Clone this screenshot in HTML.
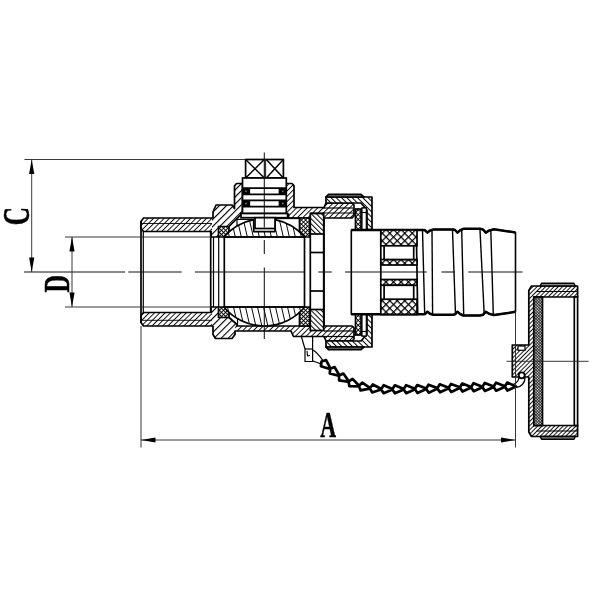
<!DOCTYPE html>
<html lang="en"><head><meta charset="utf-8"><title>Ball valve drawing</title>
<style>html,body{margin:0;padding:0;background:#fff}svg{display:block;will-change:transform;opacity:0.9999}</style></head>
<body>
<svg width="600" height="600" viewBox="0 0 600 600">
<rect width="600" height="600" fill="#fff"/>
<defs><pattern id="hp" patternUnits="userSpaceOnUse" width="3.75" height="3.75" patternTransform="rotate(45)"><rect width="3.75" height="3.75" fill="#fff"/><line x1="0" y1="0" x2="0" y2="3.75" stroke="#000" stroke-width="1.8"/></pattern><pattern id="hb" patternUnits="userSpaceOnUse" width="5.0" height="5.0" patternTransform="rotate(45)"><rect width="5.0" height="5.0" fill="#fff"/><line x1="0" y1="0" x2="0" y2="5.0" stroke="#000" stroke-width="2.2"/></pattern><pattern id="hn" patternUnits="userSpaceOnUse" width="3.75" height="3.75" patternTransform="rotate(-45)"><rect width="3.75" height="3.75" fill="#fff"/><line x1="0" y1="0" x2="0" y2="3.75" stroke="#000" stroke-width="2.0"/></pattern><pattern id="hi" patternUnits="userSpaceOnUse" width="3.6" height="3.6" patternTransform="rotate(-45)"><rect width="3.6" height="3.6" fill="#fff"/><line x1="0" y1="0" x2="0" y2="3.6" stroke="#000" stroke-width="2.0"/></pattern><pattern id="hball" patternUnits="userSpaceOnUse" width="5.85" height="5.85" patternTransform="rotate(-13)"><rect width="5.85" height="5.85" fill="#fff"/><line x1="0" y1="0" x2="0" y2="5.85" stroke="#000" stroke-width="1.9"/></pattern><pattern id="hc" patternUnits="userSpaceOnUse" width="3.0" height="3.0" patternTransform="rotate(45)"><rect width="3.0" height="3.0" fill="#fff"/><line x1="0" y1="0" x2="0" y2="3.0" stroke="#000" stroke-width="1.8"/></pattern><pattern id="xs" patternUnits="userSpaceOnUse" width="2.9" height="2.9" patternTransform="rotate(45)"><rect width="2.9" height="2.9" fill="#fff"/><line x1="0" y1="0" x2="0" y2="2.9" stroke="#000" stroke-width="1.8"/><line x1="0" y1="0" x2="2.9" y2="0" stroke="#000" stroke-width="1.8"/></pattern><pattern id="xk" patternUnits="userSpaceOnUse" width="5.3" height="5.3" patternTransform="rotate(45)"><rect width="5.3" height="5.3" fill="#fff"/><line x1="0" y1="0" x2="0" y2="5.3" stroke="#000" stroke-width="2.5"/><line x1="0" y1="0" x2="5.3" y2="0" stroke="#000" stroke-width="2.5"/></pattern><pattern id="xg" patternUnits="userSpaceOnUse" width="2.0" height="2.0" patternTransform="rotate(45)"><rect width="2.0" height="2.0" fill="#fff"/><line x1="0" y1="0" x2="0" y2="2.0" stroke="#000" stroke-width="1.3"/><line x1="0" y1="0" x2="2.0" y2="0" stroke="#000" stroke-width="1.3"/></pattern><pattern id="xw" patternUnits="userSpaceOnUse" width="3.4" height="3.4" patternTransform="rotate(45)"><rect width="3.4" height="3.4" fill="#fff"/><line x1="0" y1="0" x2="0" y2="3.4" stroke="#000" stroke-width="1.8"/><line x1="0" y1="0" x2="3.4" y2="0" stroke="#000" stroke-width="1.8"/></pattern></defs>
<polygon points="141,224 143.5,218 212,218 212,231.5 143.5,231.5 141,229" fill="url(#hp)" stroke="#000" stroke-width="0" stroke-linejoin="round" />
<polygon points="141,320 143.5,326 212,326 212,312.5 143.5,312.5 141,315" fill="url(#hp)" stroke="#000" stroke-width="0" stroke-linejoin="round" />
<polygon points="212,218 213,218 213,212 216,205 232,205 234.5,208.5 234.5,186 236.5,183.5 242.5,183.5 242.5,213.5 241,213.5 241,214.5 229,226.5 218.5,226.5 218.5,237 211,237 211,231.5 212,231.5" fill="url(#hb)" stroke="#000" stroke-width="0" stroke-linejoin="round" />
<polygon points="212,326 213,326 213,334.5 215.5,338.5 232,338.5 235,334.5 235,331 291,331 293.5,336.5 324,336.5 326,341 352,341 354,339 354,326 237,326 237,324.5 229,317.5 218.5,317.5 218.5,307 211,307 211,312.5 212,312.5" fill="url(#hp)" stroke="#000" stroke-width="0" stroke-linejoin="round" />
<polygon points="212,326 213,326 213,334.5 215.5,338.5 232,338.5 235,334.5 235,326 237,326 237,324.5 229,317.5 218.5,317.5 218.5,307 211,307 211,312.5 212,312.5" fill="url(#hb)" stroke="#000" stroke-width="0" stroke-linejoin="round" />
<polygon points="286.3,183.5 292,183.5 294,185.5 294,207.5 324,207.5 326,203 352,203 354,205 354,218 288.5,218 288.5,213.5 286.3,213.5" fill="url(#hp)" stroke="#000" stroke-width="0" stroke-linejoin="round" />
<polyline points="212,231.5 143.5,231.5 141,228.5 141,221.5 143.5,218 213,218 213,212 216,205 232,205 234.5,208.5 234.5,186 236.5,183.5 242.5,183.5 242.5,213.5 241,213.5 241,214.5 229,226.5" fill="none" stroke="#000" stroke-width="1.7" stroke-linejoin="round" />
<polyline points="211,231.5 211,237 218.5,237" fill="none" stroke="#000" stroke-width="1.7" stroke-linejoin="round" />
<polyline points="212,312.5 143.5,312.5 141,315.5 141,322.5 143.5,326 213,326" fill="none" stroke="#000" stroke-width="1.7" stroke-linejoin="round" />
<polyline points="213,326 213,334.5 215.5,338.5 232,338.5 235,334.5 235,331 291,331 293.5,336.5 324,336.5 326,341 352,341 354,339 354,328 352,326 237,326 237,324.5 229,317.5" fill="none" stroke="#000" stroke-width="1.7" stroke-linejoin="round" />
<polyline points="211,312.5 211,307 218.5,307" fill="none" stroke="#000" stroke-width="1.7" stroke-linejoin="round" />
<polyline points="286.3,183.5 292,183.5 294,185.5 294,207.5 324,207.5 326,203 352,203 354,205 354,216 352,218 288.5,218 288.5,213.5" fill="none" stroke="#000" stroke-width="1.7" stroke-linejoin="round" />
<line x1="141" y1="221" x2="141" y2="323" stroke="#000" stroke-width="1.7" />
<line x1="143.3" y1="231.5" x2="143.3" y2="312.5" stroke="#000" stroke-width="1.2" />
<line x1="142" y1="223.5" x2="212" y2="223.5" stroke="#000" stroke-width="0.9" />
<line x1="142" y1="320.3" x2="212" y2="320.3" stroke="#000" stroke-width="0.9" />
<line x1="322" y1="208" x2="353" y2="208" stroke="#000" stroke-width="1.2" />
<line x1="310" y1="213" x2="354" y2="213" stroke="#000" stroke-width="1.2" />
<line x1="324" y1="331" x2="354" y2="331" stroke="#000" stroke-width="1.2" />
<line x1="324" y1="336.5" x2="354" y2="336.5" stroke="#000" stroke-width="1.2" />
<line x1="210.7" y1="231.5" x2="210.7" y2="312.5" stroke="#000" stroke-width="1.7" />
<line x1="213.5" y1="237" x2="213.5" y2="307" stroke="#000" stroke-width="1.2" />
<line x1="218.7" y1="237" x2="218.7" y2="307" stroke="#000" stroke-width="1.2" />
<line x1="224.3" y1="237" x2="224.3" y2="307" stroke="#000" stroke-width="1.7" />
<line x1="304.5" y1="237" x2="304.5" y2="307" stroke="#000" stroke-width="1.7" />
<line x1="324" y1="218" x2="324" y2="326" stroke="#000" stroke-width="1.7" />
<polygon points="218.5,226.5 229,226.5 229,237 218.5,237" fill="url(#xs)" stroke="#000" stroke-width="1.7" stroke-linejoin="round" />
<polygon points="218.5,317.5 229,317.5 229,307 218.5,307" fill="url(#xs)" stroke="#000" stroke-width="1.7" stroke-linejoin="round" />
<polygon points="299.5,218 310,218 310,237 299.5,237" fill="url(#xs)" stroke="#000" stroke-width="1.7" stroke-linejoin="round" />
<polygon points="299.5,326 310,326 310,307 299.5,307" fill="url(#xs)" stroke="#000" stroke-width="1.7" stroke-linejoin="round" />
<rect x="310.3" y="213.5" width="13.4" height="20.5" fill="url(#hi)" stroke="#000" stroke-width="1.7"/>
<rect x="310.3" y="309.5" width="13.4" height="21" fill="url(#hi)" stroke="#000" stroke-width="1.7"/>
<line x1="310.3" y1="234" x2="310.3" y2="309.5" stroke="#000" stroke-width="1.7" />
<line x1="323.7" y1="234" x2="323.7" y2="309.5" stroke="#000" stroke-width="1.7" />
<line x1="310.3" y1="252.5" x2="323.7" y2="252.5" stroke="#000" stroke-width="1.7" />
<line x1="310.3" y1="291" x2="323.7" y2="291" stroke="#000" stroke-width="1.7" />
<path d="M223.84,237 A53.5 53.5 0 0 1 253.7,219.56 L253.7,231.6 L275,231.6 L275,219.58 A53.5 53.5 0 0 1 304.76,237 Z" fill="url(#hball)" stroke="#000" stroke-width="1.7" stroke-linejoin="round" />
<path d="M223.84,307 A52.6 52.6 0 0 0 304.76,307 Z" fill="url(#hball)" stroke="#000" stroke-width="1.7" stroke-linejoin="round" />
<line x1="224.3" y1="237" x2="304.5" y2="237" stroke="#000" stroke-width="1.7" />
<line x1="224.3" y1="307" x2="304.5" y2="307" stroke="#000" stroke-width="1.7" />
<polyline points="237,225.8 237,219.3 253.7,219.3" fill="none" stroke="#000" stroke-width="1.2" stroke-linejoin="round" />
<line x1="237.5" y1="319" x2="237.5" y2="325.7" stroke="#000" stroke-width="1.2" />
<line x1="275" y1="218.3" x2="300" y2="218.3" stroke="#000" stroke-width="1.7" />
<rect x="245.6" y="159.5" width="37.8" height="18.5" fill="#fff" stroke="#000" stroke-width="1.7"/>
<line x1="265.3" y1="159.5" x2="265.3" y2="178" stroke="#333" stroke-width="1.7" />
<line x1="245.6" y1="159.5" x2="264.3" y2="178" stroke="#000" stroke-width="1.5" />
<line x1="245.6" y1="178" x2="264.3" y2="159.5" stroke="#000" stroke-width="1.5" />
<line x1="266.3" y1="159.5" x2="283.4" y2="178" stroke="#000" stroke-width="1.5" />
<line x1="266.3" y1="178" x2="283.4" y2="159.5" stroke="#000" stroke-width="1.5" />
<rect x="242.5" y="178" width="43.8" height="35.5" fill="#fff" stroke="#000" stroke-width="1.7"/>
<line x1="242.5" y1="188.2" x2="286.3" y2="188.2" stroke="#000" stroke-width="1.7" />
<line x1="242.5" y1="194.4" x2="286.3" y2="194.4" stroke="#000" stroke-width="1.7" />
<line x1="242.5" y1="200.4" x2="286.3" y2="200.4" stroke="#000" stroke-width="1.7" />
<line x1="242.5" y1="206.6" x2="286.3" y2="206.6" stroke="#000" stroke-width="1.7" />
<rect x="242.7" y="188.20000000000002" width="6.6" height="6.2" rx="2" fill="#000"/>
<circle cx="246" cy="191.3" r="0.9" fill="#777"/>
<rect x="242.7" y="200.4" width="6.6" height="6.2" rx="2" fill="#000"/>
<circle cx="246" cy="203.5" r="0.9" fill="#777"/>
<rect x="279.5" y="188.20000000000002" width="6.6" height="6.2" rx="2" fill="#000"/>
<circle cx="282.8" cy="191.3" r="0.9" fill="#777"/>
<rect x="279.5" y="200.4" width="6.6" height="6.2" rx="2" fill="#000"/>
<circle cx="282.8" cy="203.5" r="0.9" fill="#777"/>
<line x1="249.3" y1="188.3" x2="249.3" y2="194.3" stroke="#000" stroke-width="1.7" />
<line x1="279.5" y1="188.3" x2="279.5" y2="194.3" stroke="#000" stroke-width="1.7" />
<line x1="249.3" y1="200.2" x2="249.3" y2="206.7" stroke="#000" stroke-width="1.7" />
<line x1="279.5" y1="200.2" x2="279.5" y2="206.7" stroke="#000" stroke-width="1.7" />
<rect x="241" y="213.5" width="46.6" height="4.2" fill="#fff" stroke="#000" stroke-width="1.7"/>
<rect x="255" y="217.7" width="20" height="10.8" fill="#fff" stroke="#000" stroke-width="1.7"/>
<polygon points="326,197 372,197 372,229.5 367,229.5 367,210 361,203 326,203" fill="url(#hn)" stroke="#000" stroke-width="1.7" stroke-linejoin="round" />
<polygon points="326,347 372,347 372,314.5 367,314.5 367,334 361,341 326,341" fill="url(#hn)" stroke="#000" stroke-width="1.7" stroke-linejoin="round" />
<polygon points="326,197 328.5,194.3 361,194.3 364,197" fill="#777" stroke="#000" stroke-width="1.7" stroke-linejoin="round" />
<polygon points="326,347 328.5,349.7 361,349.7 364,347" fill="#777" stroke="#000" stroke-width="1.7" stroke-linejoin="round" />
<rect x="355.5" y="209" width="5.5" height="21" fill="url(#xw)" stroke="#000" stroke-width="1.7"/>
<rect x="362" y="208" width="4.3" height="22" fill="#fff" stroke="#000" stroke-width="1.2"/>
<rect x="362" y="208" width="4.3" height="4.5" fill="#fff" stroke="#000" stroke-width="1.2"/>
<rect x="355.5" y="314" width="5.5" height="21" fill="url(#xw)" stroke="#000" stroke-width="1.7"/>
<rect x="362" y="314" width="4.3" height="22" fill="#fff" stroke="#000" stroke-width="1.2"/>
<rect x="362" y="331.5" width="4.3" height="4.5" fill="#fff" stroke="#000" stroke-width="1.2"/>
<polygon points="351.3,230 423.5,230 425,230.3 427.5,232.6 430,230.6 433.3,229.5 453.3,229.5 455,230 457.5,232.6 460,230.3 463.3,228.8 480,228.8 483,229.5 485.8,232.6 489,230.6 494,229.2 515.5,232.5 515.5,311.8 494,315.1 489,313.7 485.8,311.7 483,314.8 480,315.5 463.3,315.5 460,314 457.5,311.7 455,314.3 453.3,314.8 433.3,314.8 430,313.7 427.5,311.7 425,314 423.5,314.3 351.3,314.3" fill="#fff" stroke="#000" stroke-width="1.6" stroke-linejoin="round" />
<polyline points="351.3,230 423.5,230 425,230.3 427.5,232.6 430,230.6 433.3,229.5 453.3,229.5 455,230 457.5,232.6 460,230.3 463.3,228.8 480,228.8 483,229.5 485.8,232.6 489,230.6 494,229.2 515.5,232.5" fill="none" stroke="#000" stroke-width="2.5" stroke-linejoin="round" />
<polyline points="515.5,311.8 494,315.1 489,313.7 485.8,311.7 483,314.8 480,315.5 463.3,315.5 460,314 457.5,311.7 455,314.3 453.3,314.8 433.3,314.8 430,313.7 427.5,311.7 425,314 423.5,314.3 351.3,314.3" fill="none" stroke="#000" stroke-width="2.5" stroke-linejoin="round" />
<line x1="422.5" y1="230" x2="424.7" y2="314.3" stroke="#000" stroke-width="1.4" />
<line x1="432" y1="230" x2="432.6" y2="314.3" stroke="#000" stroke-width="1.4" />
<line x1="452.5" y1="230" x2="455.5" y2="314.3" stroke="#000" stroke-width="1.4" />
<line x1="461.7" y1="230" x2="463.7" y2="314.3" stroke="#000" stroke-width="1.4" />
<line x1="480" y1="230" x2="484.2" y2="314.3" stroke="#000" stroke-width="1.4" />
<line x1="490.8" y1="230" x2="493.3" y2="314.3" stroke="#000" stroke-width="1.4" />
<polygon points="380.8,230 416.3,230 417.7,314.3 380.8,314.3" fill="#fff" stroke="#000" stroke-width="1.7" stroke-linejoin="round" />
<rect x="380.8" y="230" width="36.2" height="15.8" fill="url(#xk)" stroke="#000" stroke-width="1.7"/>
<rect x="380.8" y="259.5" width="36.2" height="5.5" fill="url(#xk)" stroke="#000" stroke-width="1.7"/>
<rect x="380.8" y="279.5" width="36.2" height="5.8" fill="url(#xk)" stroke="#000" stroke-width="1.7"/>
<rect x="380.8" y="299.2" width="36.2" height="15.1" fill="url(#xk)" stroke="#000" stroke-width="1.7"/>
<rect x="384.1" y="245.8" width="29.6" height="13.7" fill="#fff" stroke="#000" stroke-width="1.7"/>
<rect x="384.1" y="285.3" width="29.6" height="13.9" fill="#fff" stroke="#000" stroke-width="1.7"/>
<polygon points="528.8,290.5 531.5,286 577.6,286 577.6,297 533.8,297 533.8,425.5 577.6,425.5 577.6,436.5 531.5,436.5 528.8,432 528.8,377 512.3,377 512.3,345 528.8,345" fill="url(#hc)" stroke="#000" stroke-width="1.7" stroke-linejoin="round" />
<polygon points="540,286 541.5,283.3 574,283.3 575.2,286" fill="#888" stroke="#000" stroke-width="1.4" stroke-linejoin="round" />
<polygon points="540,436.5 541.5,439.2 574,439.2 575.2,436.5" fill="#888" stroke="#000" stroke-width="1.4" stroke-linejoin="round" />
<rect x="533.8" y="297" width="8.7" height="128.5" fill="url(#xg)" stroke="#000" stroke-width="1.7"/>
<rect x="574.3" y="297" width="3.3" height="128.5" fill="#fff" stroke="#000" stroke-width="1.7"/>
<line x1="536.5" y1="291.5" x2="577.6" y2="291.5" stroke="#000" stroke-width="1.2" />
<line x1="536.5" y1="431" x2="577.6" y2="431" stroke="#000" stroke-width="1.2" />
<rect x="518" y="346" width="7" height="4.3" fill="#fff" stroke="#000" stroke-width="1.2"/>
<circle cx="521.7" cy="375.3" r="3" fill="#fff" stroke="#000" stroke-width="1.8"/>
<polyline points="301.5,337 305,349 305,361.5 312.6,361.5 312.6,337" fill="none" stroke="#000" stroke-width="1.2" stroke-linejoin="round" />
<line x1="305" y1="349" x2="312.6" y2="349" stroke="#000" stroke-width="1.2" />
<polyline points="307,351 307.5,356 310,355.5" fill="none" stroke="#000" stroke-width="1.1" stroke-linejoin="round" />
<path d="M313,350 C318,353 321,358 324,362" fill="none" stroke="#000" stroke-width="1.2" stroke-linejoin="round" />
<path d="M313,361 C318,362.5 321,364 325,366" fill="none" stroke="#000" stroke-width="1.2" stroke-linejoin="round" />
<polygon points="321.5,361.5 320.946,366.238 330.772,369.195 326.055,360.083" fill="#fff" stroke="#000" stroke-width="2.7" stroke-linejoin="round" />
<polygon points="330.156,368.684 329.782,373.44 339.711,376.023 334.654,367.096" fill="#fff" stroke="#000" stroke-width="2.7" stroke-linejoin="round" />
<polygon points="339.073,375.54 339.141,380.31 349.259,381.955 343.405,373.541" fill="#fff" stroke="#000" stroke-width="2.7" stroke-linejoin="round" />
<polygon points="348.573,381.544 349.388,386.244 359.617,386.275 352.538,378.891" fill="#fff" stroke="#000" stroke-width="2.7" stroke-linejoin="round" />
<polygon points="358.87,385.99 360.623,390.427 370.642,388.378 362.213,382.587" fill="#fff" stroke="#000" stroke-width="2.7" stroke-linejoin="round" />
<polygon points="369.852,388.249 372.119,392.447 381.853,389.227 372.769,384.473" fill="#fff" stroke="#000" stroke-width="2.7" stroke-linejoin="round" />
<polygon points="381.055,389.176 383.613,393.203 393.1,389.3 383.696,385.203" fill="#fff" stroke="#000" stroke-width="2.7" stroke-linejoin="round" />
<polygon points="392.3,389.3 394.921,393.286 404.348,389.235 394.878,385.286" fill="#fff" stroke="#000" stroke-width="2.7" stroke-linejoin="round" />
<polygon points="403.548,389.247 406.208,393.207 415.596,389.066 406.088,385.208" fill="#fff" stroke="#000" stroke-width="2.7" stroke-linejoin="round" />
<polygon points="414.796,389.078 417.501,393.008 426.841,388.761 417.29,385.011" fill="#fff" stroke="#000" stroke-width="2.7" stroke-linejoin="round" />
<polygon points="426.041,388.789 428.779,392.695 438.083,388.367 428.5,384.7" fill="#fff" stroke="#000" stroke-width="2.7" stroke-linejoin="round" />
<polygon points="437.283,388.395 440.022,392.302 449.325,387.974 439.742,384.307" fill="#fff" stroke="#000" stroke-width="2.7" stroke-linejoin="round" />
<polygon points="448.526,388.002 451.263,391.909 460.567,387.583 450.985,383.914" fill="#fff" stroke="#000" stroke-width="2.7" stroke-linejoin="round" />
<polygon points="459.768,387.608 462.487,391.528 471.812,387.246 462.246,383.532" fill="#fff" stroke="#000" stroke-width="2.7" stroke-linejoin="round" />
<polygon points="471.012,387.27 473.721,391.197 483.056,386.939 473.501,383.2" fill="#fff" stroke="#000" stroke-width="2.7" stroke-linejoin="round" />
<polygon points="482.257,386.955 484.936,390.902 494.303,386.714 484.776,382.904" fill="#fff" stroke="#000" stroke-width="2.7" stroke-linejoin="round" />
<polygon points="493.503,386.73 496.158,390.694 505.551,386.565 496.048,382.695" fill="#fff" stroke="#000" stroke-width="2.7" stroke-linejoin="round" />
<polygon points="504.751,386.57 507.376,390.554 516,386.5 507.326,382.554" fill="#fff" stroke="#000" stroke-width="2.7" stroke-linejoin="round" />
<path d="M516,387.5 C521,387 525,383 525,378" fill="none" stroke="#000" stroke-width="1.3" stroke-linejoin="round" />
<path d="M513,384.5 C516,383.5 518.5,381 519,377.5" fill="none" stroke="#000" stroke-width="1.3" stroke-linejoin="round" />
<line x1="24.5" y1="159.5" x2="246" y2="159.5" stroke="#222" stroke-width="0.9" />
<line x1="24" y1="272" x2="125" y2="272" stroke="#111" stroke-width="1.05" />
<line x1="128.3" y1="272" x2="181.7" y2="272" stroke="#111" stroke-width="1.05" />
<line x1="195" y1="272" x2="304.5" y2="272" stroke="#111" stroke-width="1.05" />
<line x1="318.3" y1="272" x2="331.7" y2="272" stroke="#111" stroke-width="1.05" />
<line x1="345" y1="272" x2="426.7" y2="272" stroke="#111" stroke-width="1.05" />
<line x1="441.5" y1="272" x2="455" y2="272" stroke="#111" stroke-width="1.05" />
<line x1="468.3" y1="272" x2="522.5" y2="272" stroke="#111" stroke-width="1.05" />
<line x1="65" y1="237" x2="213" y2="237" stroke="#222" stroke-width="0.9" />
<line x1="65" y1="307" x2="213" y2="307" stroke="#222" stroke-width="0.9" />
<line x1="31.7" y1="160" x2="31.7" y2="272" stroke="#222" stroke-width="0.9" />
<line x1="72" y1="237" x2="72" y2="307" stroke="#222" stroke-width="0.9" />
<line x1="141" y1="326" x2="141" y2="447.5" stroke="#222" stroke-width="0.9" />
<line x1="515.5" y1="311" x2="515.5" y2="447.5" stroke="#222" stroke-width="0.9" />
<line x1="141" y1="440" x2="515.5" y2="440" stroke="#222" stroke-width="0.9" />
<line x1="264.3" y1="152.5" x2="264.3" y2="227.5" stroke="#111" stroke-width="1.05" />
<line x1="264.3" y1="240" x2="264.3" y2="254" stroke="#111" stroke-width="1.05" />
<line x1="264.3" y1="267.5" x2="264.3" y2="339" stroke="#111" stroke-width="1.05" />
<line x1="506.5" y1="361.3" x2="588.5" y2="361.3" stroke="#222" stroke-width="0.9" />
<polygon points="31.7,159.5 34.3,174 29.1,174" fill="#000"/>
<polygon points="31.7,272 29.1,257.5 34.3,257.5" fill="#000"/>
<polygon points="72,237 74.6,251.5 69.4,251.5" fill="#000"/>
<polygon points="72,307 69.4,292.5 74.6,292.5" fill="#000"/>
<polygon points="141,440 155.5,437.4 155.5,442.6" fill="#000"/>
<polygon points="515.5,440 501,442.6 501,437.4" fill="#000"/>
<text transform="translate(28.8,216.2) rotate(-90) scale(0.69,1.02)" text-anchor="middle" font-family="Liberation Serif, serif" font-weight="bold" font-size="36.5" fill="#000" stroke="#000" stroke-width="0.5" stroke-linejoin="round">C</text>
<text transform="translate(69.2,283.9) rotate(-90) scale(0.66,1)" text-anchor="middle" font-family="Liberation Serif, serif" font-weight="bold" font-size="36.5" fill="#000" stroke="#000" stroke-width="0.5" stroke-linejoin="round">D</text>
<text transform="translate(328.1,436.6) scale(0.6,1)" text-anchor="middle" font-family="Liberation Serif, serif" font-weight="bold" font-size="36.5" fill="#000" stroke="#000" stroke-width="0.5" stroke-linejoin="round">A</text>
</svg>
</body></html>
